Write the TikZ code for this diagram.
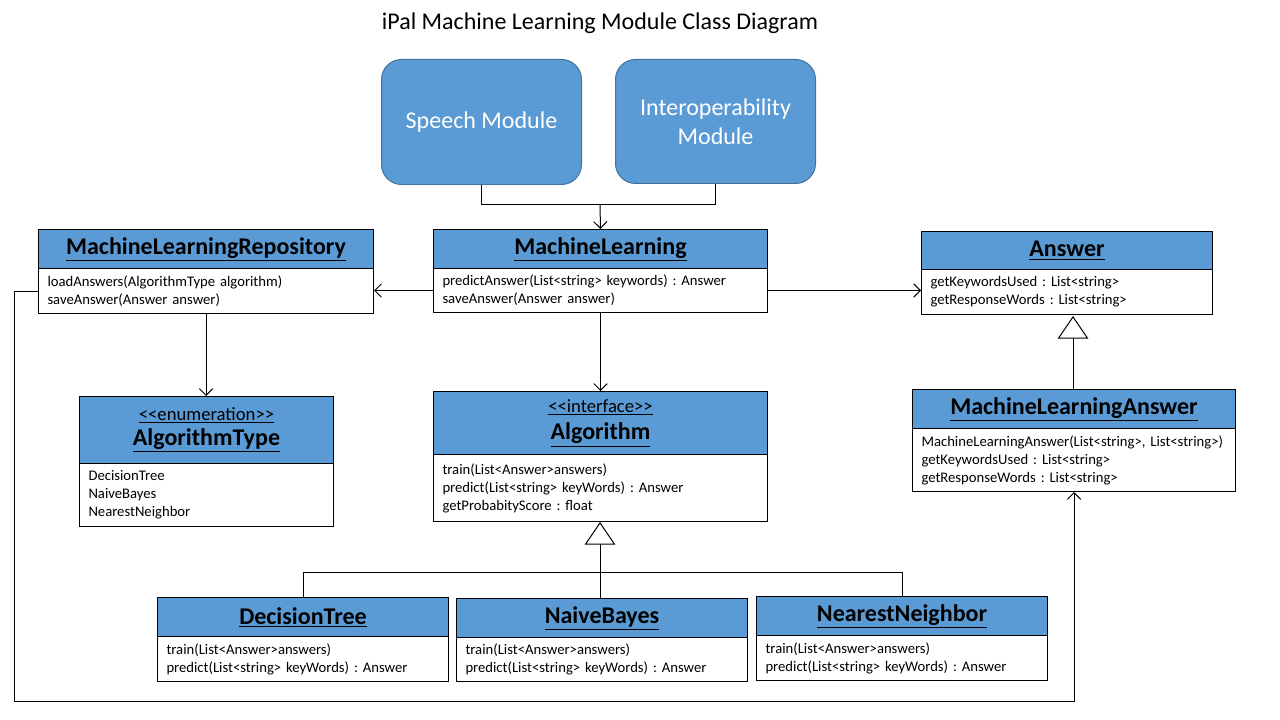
\documentclass[tikz,border=0pt]{standalone}
\usepackage{fontspec}
\setmainfont{Carlito}
\usetikzlibrary{arrows.meta}
\definecolor{officeblue}{HTML}{5B9BD5}
\definecolor{officeedge}{HTML}{41719C}
\frenchspacing
\tikzset{
  hdr/.style={draw=black, fill=officeblue, line width=0.75pt, inner sep=0pt, align=center, text=black},
  bdy/.style={draw=black, fill=white, line width=0.75pt, inner xsep=6.75pt, inner ysep=0pt, align=left,
    font=\fontsize{11}{13.5}\selectfont},
  module/.style={draw=officeedge, fill=officeblue, line width=0.75pt, rounded corners=15pt, text=white,
    align=center, font=\fontsize{18}{22}\selectfont, inner sep=0pt},
  conn/.style={line width=0.75pt, draw=black},
  arr/.style={conn, -{Straight Barb[length=5pt,width=10pt]}},
  inh/.style={conn, -{Triangle[open,length=17pt,width=23pt,fill=white]}},
}
\newcommand\ctitle[1]{{\fontsize{18}{22}\selectfont\bfseries\underline{#1}}}
\newcommand\cstereo[1]{{\fontsize{14}{20}\selectfont\underline{#1}}}
\newcommand\umlclass[8]{%
  \pgfmathsetmacro\uw{(#5-#2)*0.75}%
  \pgfmathsetmacro\uh{(#4-#3)*0.75}%
  \pgfmathsetmacro\ub{(#6-#4)*0.75}%
  \pgfmathsetmacro\ut{(#5-#2)*0.75-13.5}%
  \node[hdr, anchor=north west, minimum width=\uw pt, minimum height=\uh pt] (#1-h) at (#2,#3) {#7};
  \node[bdy, anchor=north west, text width=\ut pt, minimum height=\ub pt] (#1-b) at (#2,#4) {#8};
}
\begin{document}
\begin{tikzpicture}[x=0.75pt,y=-0.75pt]
\useasboundingbox[fill=white] (0,0) rectangle (1280,720);

\node[font=\fontsize{18}{22}\selectfont] (title) at (600,23) {iPal Machine Learning Module Class Diagram};

\node[module, anchor=north west, minimum width=150pt, minimum height=93.75pt] (sp) at (381,59) {Speech Module};
\node[module, anchor=north west, minimum width=150pt, minimum height=93pt] (io) at (615,59) {Interoperability\\Module};

\umlclass{repo}{38}{229}{268}{373}{313}{\ctitle{MachineLearningRepository}}{loadAnswers(AlgorithmType algorithm)\\saveAnswer(Answer answer)}
\umlclass{ml}{433}{229}{268}{767}{312}{\ctitle{MachineLearning}}{predictAnswer(List<string> keywords) : Answer\\saveAnswer(Answer answer)}
\umlclass{ans}{921}{231}{269}{1212}{314}{\ctitle{Answer}}{getKeywordsUsed : List<string>\\getResponseWords : List<string>}
\umlclass{at}{79}{396}{463}{333}{526}{\cstereo{{<}{<}enumeration{>}{>}}\\[3pt]\ctitle{AlgorithmType}}{DecisionTree\\NaiveBayes\\NearestNeighbor}
\umlclass{alg}{433}{391}{454}{767}{521}{\cstereo{{<}{<}interface{>}{>}}\\[5pt]\ctitle{Algorithm}}{train(List<Answer>answers)\\predict(List<string> keyWords) : Answer\\getProbabityScore : float}
\umlclass{mla}{912}{389}{428}{1235}{491}{\ctitle{MachineLearningAnswer}}{MachineLearningAnswer(List<string>, List<string>)\\getKeywordsUsed : List<string>\\getResponseWords : List<string>}
\umlclass{dt}{157}{597}{636}{448}{681}{\ctitle{DecisionTree}}{train(List<Answer>answers)\\predict(List<string> keyWords) : Answer}
\umlclass{nb}{456}{598}{637}{747}{681}{\ctitle{NaiveBayes}}{train(List<Answer>answers)\\predict(List<string> keyWords) : Answer}
\umlclass{nn}{756}{596}{635}{1047}{680}{\ctitle{NearestNeighbor}}{train(List<Answer>answers)\\predict(List<string> keyWords) : Answer}

% modules to MachineLearning
\coordinate (j1) at (600,205);
\draw[conn] (sp.south) |- (j1);
\draw[conn] (io.south) |- (j1);
\draw[arr] (j1) -- (ml-h.north);

% MachineLearning associations
\draw[arr] (ml-b.west) -- (ml-b.west -| repo-b.east);
\draw[arr] (ml-b.east) -- (ml-b.east -| ans-b.west);
\draw[arr] (repo-b.south) -- (repo-b.south |- at-h.north);
\draw[arr] (ml-b.south) -- (ml-b.south |- alg-h.north);

% Algorithm realisations
\coordinate (j2) at (600,572);
\coordinate (algtip) at (600,522);
\draw[conn] (dt-h.north) |- (j2);
\draw[conn] (nn-h.north) |- (j2);
\draw[conn] (nb-h.north -| j2) -- (j2);
\draw[inh] (j2) -- (algtip);

% MachineLearningAnswer to Answer
\coordinate (anstip) at (1073,316);
\draw[inh] (mla-h.north -| anstip) -- (anstip);

% Repository to MachineLearningAnswer loop
\coordinate (c1) at (14,701);
\draw[arr] (repo-b.west) -| (c1) -| (mla-b.south);
\end{tikzpicture}
\end{document}
